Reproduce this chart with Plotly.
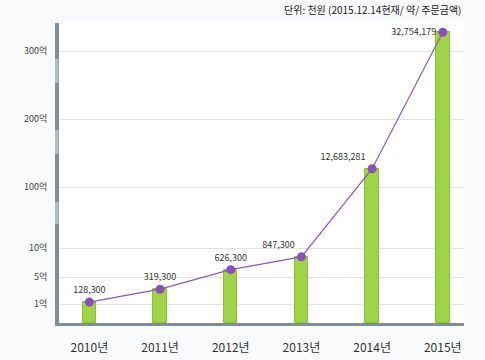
import numpy as np
import plotly.graph_objects as go

years = ["2010년", "2011년", "2012년", "2013년", "2014년", "2015년"]
amounts = [128300, 319300, 626300, 847300, 12683281, 32754179]  # 천원
labels = ["128,300", "319,300", "626,300", "847,300", "12,683,281", "32,754,179"]

tick_values_eok = [1, 5, 10, 100, 200, 300]
tick_text = ["1억", "5억", "10억", "100억", "200억", "300억"]

# piecewise (broken) axis scale: value in 억 -> display position
scale_in = [0, 1, 5, 10, 100, 200, 300, 400]
scale_out = [0, 19, 46, 75, 136, 204, 272, 340]


def to_pos(v_eok):
    return np.interp(v_eok, scale_in, scale_out)


vals_eok = np.array(amounts) / 1e5
ypos = to_pos(vals_eok)
tick_pos = to_pos(tick_values_eok)
xs = list(range(len(years)))

font = "Noto Sans CJK KR, Noto Sans, sans-serif"

fig = go.Figure()
fig.add_trace(go.Bar(
    x=xs, y=ypos, width=0.19,
    marker=dict(color="#9fd44a", line=dict(color="#86c235", width=1)),
    hoverinfo="skip",
))
fig.add_trace(go.Scatter(
    x=xs, y=ypos, mode="lines+markers+text",
    line=dict(color="#8d57b8", width=1.2),
    marker=dict(color="#8a4fb8", size=9),
    text=labels,
    textposition=["top center", "top center", "top center", "top left", "top left", "middle left"],
    textfont=dict(family=font, size=9, color="#333333"),
    cliponaxis=False,
))

# axis-break hatch marks on the y axis line
shapes = []
for lo, hi in [(241, 265), (170, 193), (100, 121)]:
    for yy in np.arange(lo, hi, 2.0):
        shapes.append(dict(type="line", xref="paper", yref="y", x0=-0.011, x1=-0.001,
                           y0=yy, y1=yy, line=dict(color="#e6eaee", width=1)))

fig.update_layout(
    width=485, height=360,
    margin=dict(l=59, r=21, t=23, b=37, autoexpand=False),
    paper_bgcolor="#f9fafb",
    plot_bgcolor="#ffffff",
    showlegend=False,
    bargap=0,
    shapes=shapes,
    xaxis=dict(
        tickmode="array", tickvals=xs, ticktext=years,
        range=[-0.43, 5.3], automargin=False,
        showgrid=False, zeroline=False,
        showline=True, linecolor="#7d8f9c", linewidth=3,
        ticks="", ticklabelstandoff=12,
        tickfont=dict(family=font, size=12, color="#333333"),
    ),
    yaxis=dict(
        tickmode="array", tickvals=tick_pos, ticktext=tick_text,
        range=[0, 300], automargin=False,
        showgrid=True, gridcolor="#e3e3e3", gridwidth=1,
        zeroline=False,
        showline=True, linecolor="#7d8f9c", linewidth=4,
        ticks="", ticklabelstandoff=6,
        tickfont=dict(family=font, size=9, color="#444444"),
    ),
    annotations=[dict(
        text="단위: 천원 (2015.12.14현재/ 약/ 주문금액)",
        xref="paper", yref="paper", x=1.0, y=1.045,
        xanchor="right", yanchor="middle", showarrow=False,
        font=dict(family=font, size=10, color="#222222"),
    )],
)

fig.write_html("out.html",
               config={"displayModeBar": False},
               post_script="document.body.style.margin='0';document.body.style.overflow='hidden';")
